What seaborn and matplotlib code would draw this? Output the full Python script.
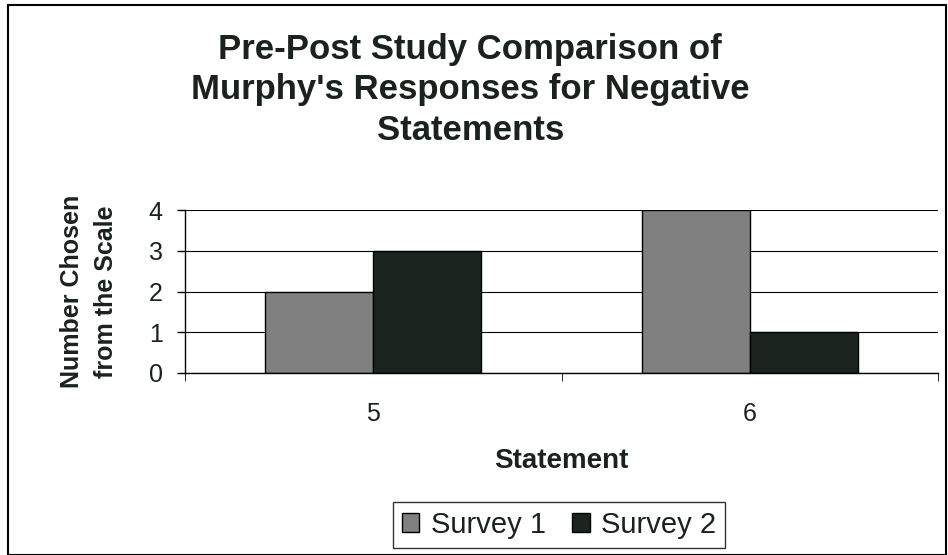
import matplotlib
matplotlib.use("Agg")
import matplotlib.pyplot as plt
import seaborn as sns
import pandas as pd
from matplotlib.patches import Rectangle

statements = ["5", "6"]
survey1 = [2, 4]
survey2 = [3, 1]
series_names = ["Survey 1", "Survey 2"]
yticks = [0, 1, 2, 3, 4]

df = pd.DataFrame({
    "Statement": statements * 2,
    "Value": survey1 + survey2,
    "Series": [series_names[0]] * len(statements) + [series_names[1]] * len(statements),
})

TXT = "#1a221e"
sns.set_style("white")
plt.rcParams['font.family'] = ['Liberation Sans', 'DejaVu Sans']
plt.rcParams['text.color'] = TXT

fig = plt.figure(figsize=(9.48, 5.55), dpi=100)
ax = fig.add_axes([185/948, 1 - 373/555, (938-185)/948, (373-210)/555])

sns.barplot(data=df, x="Statement", y="Value", hue="Series",
            palette=["#7f807f", "#1b2520"], width=0.575, edgecolor="black",
            linewidth=1.0, ax=ax, legend=False, saturation=1)

ax.set_ylim(0, 4)
ax.set_yticks(yticks)
ax.set_yticklabels([str(t) for t in yticks], fontsize=18, color=TXT)
ax.tick_params(axis='x', labelsize=18, pad=21, length=0, labelcolor=TXT)
ax.tick_params(axis='y', length=6, width=1, color='black', direction='out', left=True, pad=10)
ax.yaxis.grid(True, color='black', linewidth=0.8)
ax.set_axisbelow(True)
ax.spines["top"].set_visible(False)
ax.spines["right"].set_visible(False)
ax.spines["left"].set_color('black')
ax.spines["bottom"].set_color('black')
ax.spines["left"].set_linewidth(1)
ax.spines["bottom"].set_linewidth(1)
ax.set_xticks([0, 1], minor=False)
ax.set_xticks([-0.5, 0.5, 1.5], minor=True)
ax.tick_params(axis='x', which='minor', length=6, color='black', bottom=True)
ax.set_xlim(-0.5, 1.5)

ax.set_xlabel("Statement", fontsize=20, fontweight='bold', labelpad=16, color=TXT)
ax.set_ylabel("Number Chosen\nfrom the Scale", fontsize=18, fontweight='bold', labelpad=22,
              linespacing=1.55, color=TXT)

fig.text(0.496, 1 - 90/555, "Pre-Post Study Comparison of\nMurphy's Responses for Negative\nStatements",
         ha='center', va='center', fontsize=25, fontweight='bold', linespacing=1.3, color=TXT)

handles = [Rectangle((0, 0), 1, 1, facecolor="#7f807f", edgecolor='black'),
           Rectangle((0, 0), 1, 1, facecolor="#1b2520", edgecolor='black')]
leg = fig.legend(handles, series_names, loc='center', bbox_to_anchor=(559/948, 1 - 525/555),
                 ncol=2, fontsize=21, frameon=True, fancybox=False, edgecolor='black',
                 handlelength=0.6, handleheight=0.6, handletextpad=0.4, columnspacing=0.9,
                 borderpad=0.3)
leg.get_frame().set_linewidth(1)

fig.patches.append(Rectangle((8/948, 0), 938/948, 1 - 5/555, transform=fig.transFigure,
                             fill=False, edgecolor='black', linewidth=1.5))

fig.savefig("out.png", dpi=100)
